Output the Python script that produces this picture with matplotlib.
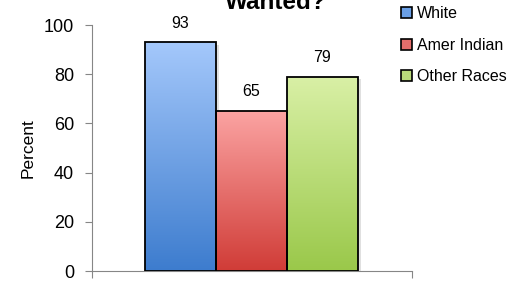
import numpy as np
import matplotlib
matplotlib.use("Agg")
import matplotlib.pyplot as plt
from matplotlib.colors import LinearSegmentedColormap
from matplotlib.patches import Patch, Rectangle

# data
groups = ["White", "Amer Indian", "Other Races"]
values = [93, 65, 79]
top_colors = ["#a4c8fb", "#fba3a2", "#d9f0a6"]
bottom_colors = ["#3d7cce", "#d03c37", "#9ac84a"]
mid_colors = ["#6a9fe6", "#e56e6b", "#bada7a"]

plt.rcParams["font.family"] = ["Liberation Sans", "DejaVu Sans"]

fig = plt.figure(figsize=(5.15, 2.81), dpi=100)
ax = fig.add_axes([92 / 515, 1 - 271 / 281, 320 / 515, 246 / 281])

x = np.arange(len(values))
bars = ax.bar(x, values, width=1.0, color="none", edgecolor="black", linewidth=1.3, zorder=3)

# shadow + gradient fill for each bar
grad = np.linspace(0, 1, 256).reshape(-1, 1)
for i, b in enumerate(bars):
    x0, w, h = b.get_x(), b.get_width(), b.get_height()
    sh = Rectangle((x0 + 0.04, 0), w, h - 1.0, facecolor="#000000", alpha=0.12,
                   edgecolor="none", zorder=1)
    ax.add_patch(sh)
    cmap = LinearSegmentedColormap.from_list("g%d" % i, [bottom_colors[i], top_colors[i]])
    im = ax.imshow(grad, cmap=cmap, aspect="auto", origin="lower",
                   extent=[x0, x0 + w, 0, h], zorder=2)
    im.set_clip_path(b)
    ax.text(x[i], h + 7.8, str(values[i]), ha="center", va="center", fontsize=11.5)

left = -0.5 - 53 / 71
ax.set_xlim(left, left + 320 / 71)
ax.set_ylim(0, 100)
ax.set_yticks([0, 20, 40, 60, 80, 100])
ax.set_xticks([left, left + 320 / 71])
ax.set_xticklabels([])
ax.tick_params(axis="both", direction="out", length=5, color="#868686", labelsize=13)
ax.tick_params(axis="y", pad=8)
for s in ["top", "right"]:
    ax.spines[s].set_visible(False)
for s in ["left", "bottom"]:
    ax.spines[s].set_color("#868686")
ax.set_ylabel("Percent", fontsize=12.5, labelpad=6)

fig.text(276 / 515, 1 - 9 / 281, "Wanted?", ha="center", va="baseline",
         fontsize=17.5, fontweight="bold")

handles = [Patch(facecolor=mid_colors[i], edgecolor="black", linewidth=1.2) for i in range(3)]
fig.legend(handles, groups, loc="upper left", bbox_to_anchor=(395 / 515, 1 + 0 / 281),
           frameon=False, fontsize=11.5, handlelength=0.65, handleheight=0.65,
           handletextpad=0.3, labelspacing=1.03, borderaxespad=0)

fig.savefig("out.png", dpi=100)
